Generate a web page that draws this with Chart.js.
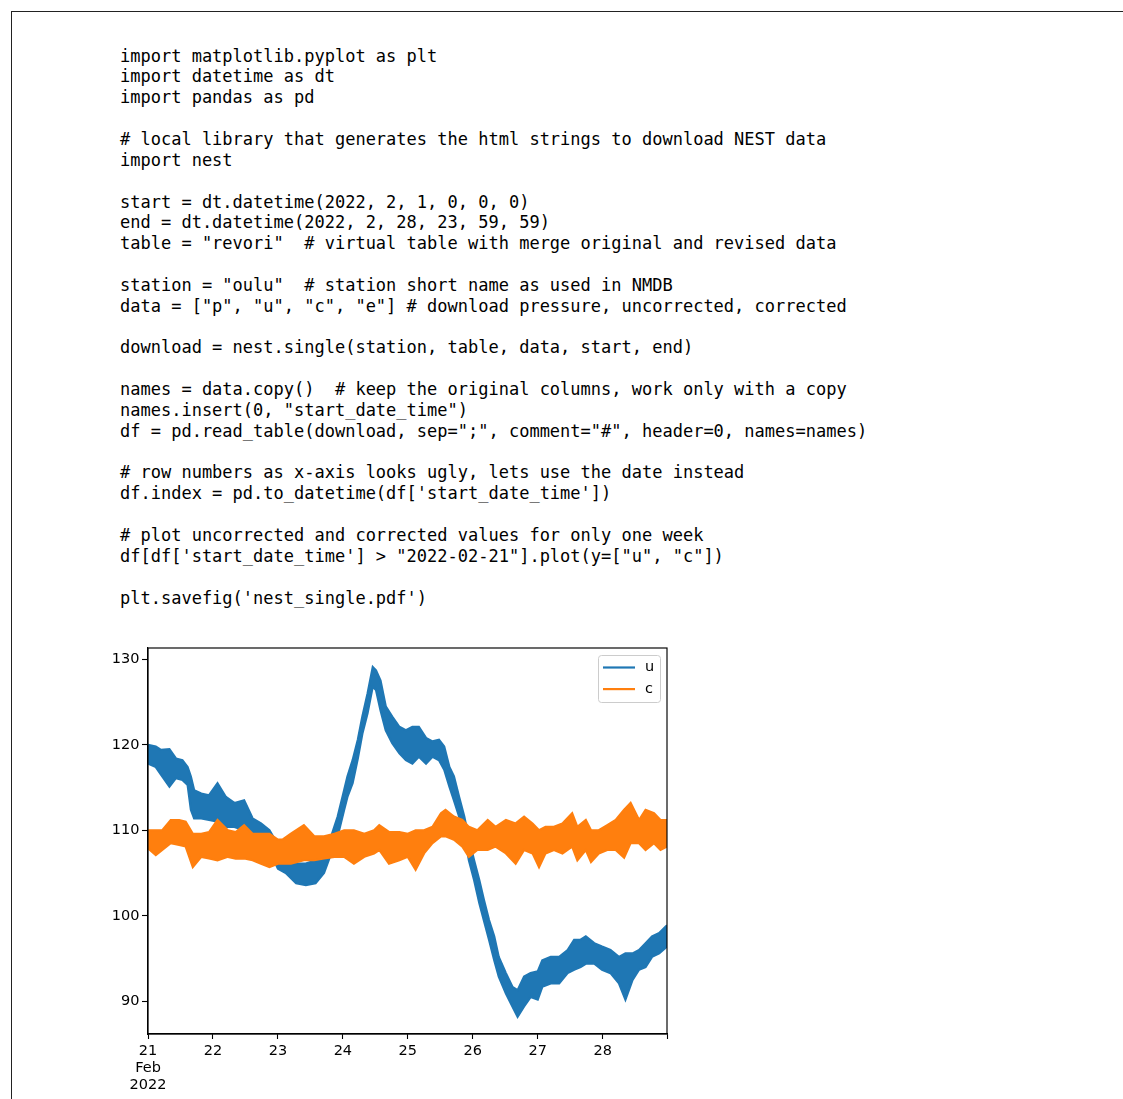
<!DOCTYPE html>
<html>
<head>
<meta charset="utf-8">
<script src="https://cdn.jsdelivr.net/npm/chart.js@4/dist/chart.umd.min.js"></script>
<style>
  html, body { margin: 0; padding: 0; background: #fff; width: 1123px; height: 1099px; overflow: hidden; }
  #frame { position: absolute; left: 11px; top: 11px; width: 1200px; height: 1200px;
           border-top: 1px solid #222; border-left: 1px solid #222; }
  pre#code { position: absolute; left: 120px; top: 45.6px; margin: 0;
             font-family: "DejaVu Sans Mono", monospace; font-size: 17px; line-height: 20.85px; color: #000; }
  #chartBox { position: absolute; left: 80px; top: 630px; width: 620px; height: 469px; }
</style>
</head>
<body>
<div id="frame"></div>
<pre id="code">import matplotlib.pyplot as plt
import datetime as dt
import pandas as pd

# local library that generates the html strings to download NEST data
import nest

start = dt.datetime(2022, 2, 1, 0, 0, 0)
end = dt.datetime(2022, 2, 28, 23, 59, 59)
table = "revori"  # virtual table with merge original and revised data

station = "oulu"  # station short name as used in NMDB
data = ["p", "u", "c", "e"] # download pressure, uncorrected, corrected

download = nest.single(station, table, data, start, end)

names = data.copy()  # keep the original columns, work only with a copy
names.insert(0, "start_date_time")
df = pd.read_table(download, sep=";", comment="#", header=0, names=names)

# row numbers as x-axis looks ugly, lets use the date instead
df.index = pd.to_datetime(df['start_date_time'])

# plot uncorrected and corrected values for only one week
df[df['start_date_time'] &gt; "2022-02-21"].plot(y=["u", "c"])

plt.savefig('nest_single.pdf')</pre>
<div id="chartBox"><canvas id="c" width="620" height="469"></canvas></div>
<script>
// ---- data (days since 2022-02-21 00:00, value envelope) ----
const seriesNames = ["u", "c"];
const seriesColors = ["#1f77b4", "#ff7f0e"];

const uDays = [0.00,0.12,0.20,0.33,0.43,0.53,0.61,0.66,0.71,0.82,0.94,1.07,1.20,1.33,1.48,1.61,1.74,1.87,2.00,2.12,2.28,2.43,2.58,2.71,2.82,2.92,3.02,3.07,3.15,3.23,3.30,3.38,3.46,3.51,3.58,3.66,3.76,3.87,3.97,4.07,4.17,4.28,4.38,4.48,4.56,4.64,4.71,4.79,4.87,4.94,5.02,5.10,5.17,5.25,5.33,5.40,5.51,5.61,5.69,5.79,5.89,6.00,6.07,6.20,6.33,6.46,6.56,6.66,6.74,6.87,6.99,7.12,7.25,7.35,7.46,7.56,7.66,7.76,7.87,7.99];
const uHigh = [120.0,119.8,119.4,119.5,118.4,118.2,117.4,116.3,114.7,114.3,114.1,115.5,113.9,113.2,113.5,111.4,110.8,110.0,108.3,106.8,106.1,106.1,106.5,107.3,109.3,111.6,114.7,116.3,118.2,120.6,123.3,126.0,129.1,128.7,127.5,124.5,123.3,122.1,121.7,122.1,122.1,120.8,120.4,120.6,119.8,117.4,116.3,113.9,111.6,109.0,106.5,104.2,101.9,99.5,97.6,95.2,93.3,91.7,91.3,92.9,93.3,93.5,94.8,95.2,95.2,96.0,97.2,97.2,97.6,96.8,96.4,96.0,95.2,95.6,95.6,96.0,96.8,97.6,98.0,98.9];
const uLow  = [117.8,117.4,116.5,115.1,116.1,115.9,115.3,112.4,111.4,111.4,111.2,111.0,110.4,110.4,110.0,109.3,108.9,107.7,105.5,105.0,103.8,103.6,103.8,105.0,107.3,109.3,112.4,113.9,115.5,118.4,121.3,123.7,126.8,126.4,124.0,121.7,120.2,119.0,118.2,117.8,118.6,117.8,118.6,118.2,117.1,115.1,113.5,111.6,109.6,106.5,104.2,101.5,99.5,97.2,94.8,92.9,90.9,89.4,88.2,89.4,90.5,90.2,91.7,92.1,92.1,93.3,93.7,94.0,94.4,94.4,93.7,93.3,92.1,90.2,92.5,93.7,94.0,95.2,95.6,96.4];

const cDays = [0.00,0.12,0.22,0.35,0.48,0.58,0.69,0.82,0.94,1.07,1.23,1.35,1.48,1.61,1.74,1.87,2.00,2.07,2.20,2.40,2.56,2.71,2.87,3.02,3.17,3.33,3.48,3.56,3.71,3.87,4.00,4.12,4.25,4.38,4.51,4.58,4.71,4.84,4.94,5.07,5.23,5.35,5.51,5.66,5.79,5.92,6.02,6.12,6.25,6.38,6.53,6.61,6.74,6.82,6.94,7.07,7.20,7.33,7.43,7.56,7.66,7.79,7.89,7.99];
const cHigh = [110.0,110.0,110.0,111.2,111.2,111.0,109.6,109.6,109.8,111.2,110.0,109.8,110.6,109.6,109.6,109.6,108.9,108.9,109.6,110.6,109.3,109.3,109.6,110.0,110.0,109.6,110.0,110.6,109.8,109.8,109.6,110.0,110.0,110.4,112.0,112.4,111.6,111.2,110.4,110.0,111.2,110.4,111.2,110.8,111.6,110.8,110.0,110.4,110.4,110.8,112.0,110.4,111.2,110.0,110.0,110.6,111.2,112.4,113.2,111.2,112.4,112.0,111.2,111.2];
const cLow  = [107.9,107.1,107.7,108.5,108.3,108.1,105.7,106.9,106.7,106.5,106.9,106.7,106.7,106.5,106.1,105.7,106.1,106.1,106.1,106.5,106.5,106.7,106.9,106.9,106.1,106.9,107.3,107.7,106.1,106.5,106.9,105.4,107.3,108.5,109.3,109.3,108.9,108.1,106.9,107.7,107.7,108.1,107.3,106.1,107.7,107.3,105.7,107.3,107.7,107.3,108.1,106.5,107.7,106.3,107.3,107.7,107.7,106.8,108.5,108.5,107.7,108.5,107.7,108.1];

const xTickValues = [0, 1, 2, 3, 4, 5, 6, 7, 8];
const xTickLabels = [["21", "Feb", "2022"], "22", "23", "24", "25", "26", "27", "28", ""];
const yTickValues = [90, 100, 110, 120, 130];

// ---- build chart ----
const pts = (xs, ys) => xs.map((x, i) => ({ x: x, y: ys[i] }));
function band(name, color, xs, hi, lo, order) {
  return [
    { label: name, data: pts(xs, hi), borderColor: color, backgroundColor: color,
      borderWidth: 2.2, pointRadius: 0, fill: false, order: order, inLegend: true },
    { label: name + "_low", data: pts(xs, lo), borderColor: color, backgroundColor: color,
      borderWidth: 2.2, pointRadius: 0, fill: "-1", order: order, inLegend: false }
  ];
}
const datasets = [
  ...band(seriesNames[0], seriesColors[0], uDays, uHigh, uLow, 2),
  ...band(seriesNames[1], seriesColors[1], cDays, cHigh, cLow, 1)
];

const FONT = '"DejaVu Sans", sans-serif';
Chart.defaults.font.family = FONT;
Chart.defaults.color = "#000";

const frameAndLegend = {
  id: "frameAndLegend",
  afterDraw(chart) {
    const ctx = chart.ctx, a = chart.chartArea;
    ctx.save();
    ctx.strokeStyle = "#000";
    ctx.lineWidth = 1.16;
    ctx.strokeRect(a.left, a.top, a.right - a.left, a.bottom - a.top);
    const entries = chart.data.datasets.filter(d => d.inLegend);
    const bw = 62, bh = 47;
    const bx = a.right - 7 - bw, by = a.top + 7;
    ctx.beginPath();
    ctx.roundRect(bx + 0.5, by + 0.5, bw, bh, 3);
    ctx.fillStyle = "rgba(255,255,255,0.8)";
    ctx.fill();
    ctx.strokeStyle = "#cccccc";
    ctx.lineWidth = 1;
    ctx.stroke();
    entries.forEach((d, i) => {
      const y = by + 12.5 + i * 21.6;
      ctx.strokeStyle = d.borderColor;
      ctx.lineWidth = 2.2;
      ctx.beginPath();
      ctx.moveTo(bx + 5, y);
      ctx.lineTo(bx + 37, y);
      ctx.stroke();
      ctx.fillStyle = "#000";
      ctx.font = "14.5px " + FONT;
      ctx.textBaseline = "middle";
      ctx.textAlign = "left";
      ctx.fillText(d.label, bx + 47, y);
    });
    ctx.restore();
  }
};

new Chart(document.getElementById("c"), {
  type: "line",
  data: { datasets: datasets },
  plugins: [frameAndLegend],
  options: {
    responsive: false,
    animation: false,
    devicePixelRatio: 1,
    layout: { padding: { left: 0, top: 18, right: 33, bottom: 0 } },
    plugins: { legend: { display: false }, tooltip: { enabled: false } },
    elements: { line: { tension: 0 } },
    scales: {
      x: {
        type: "linear", min: 0, max: 7.99,
        afterBuildTicks: s => { s.ticks = xTickValues.map(v => ({ value: v })); },
        afterFit: s => { s.height = 65; },
        grid: { drawOnChartArea: false, drawTicks: true, tickLength: 5, color: "#000", tickWidth: 1.1 },
        border: { display: true, color: "#000", width: 1.16 },
        ticks: { autoSkip: false, maxRotation: 0, padding: 4,
                 font: { size: 14.5, lineHeight: "17px" }, color: "#000",
                 callback: (v, i) => xTickLabels[xTickValues.indexOf(v)] }
      },
      y: {
        type: "linear", min: 86.18, max: 131.32,
        afterBuildTicks: s => { s.ticks = yTickValues.map(v => ({ value: v })); },
        afterFit: s => { s.width = 68; },
        grid: { drawOnChartArea: false, drawTicks: true, tickLength: 6, color: "#000", tickWidth: 1.1 },
        border: { display: true, color: "#000", width: 1.16 },
        ticks: { padding: 2.5, font: { size: 14.5 }, color: "#000",
                 callback: v => String(v) }
      }
    }
  }
});
</script>
</body>
</html>
